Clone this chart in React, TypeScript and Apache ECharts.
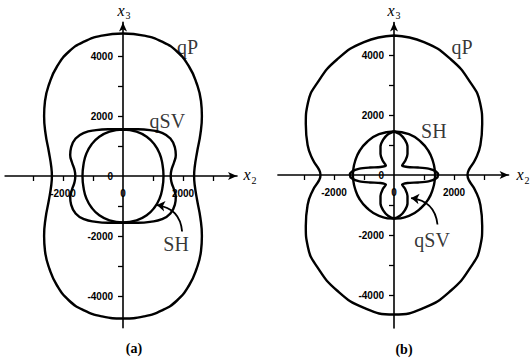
import React, { useEffect, useRef } from "react";
import * as echarts from "echarts";

// Axis ticks and labels
const hTicks = [-3000, -2000, -1000, 1000, 2000, 3000];
const hLabels = [-2000, 0, 2000];
const vTicks = [-4000, -3000, -2000, -1000, 1000, 2000, 3000, 4000];
const vLabels = [-4000, -2000, 0, 2000, 4000];

// Upper-right quadrant of each wave surface [x2, x3], from the x3 axis down to the x2 axis
const qPa = [[0, 4750], [700, 4680], [1300, 4480], [1800, 4150], [2200, 3650], [2450, 3100], [2600, 2500], [2630, 2000], [2580, 1400], [2470, 800], [2390, 300], [2370, 0]];
const qSVa = [[0, 1560], [500, 1560], [900, 1530], [1300, 1440], [1580, 1250], [1730, 950], [1760, 700], [1700, 450], [1620, 220], [1590, 0]];
const SHa = [[0, 1550], [450, 1480], [800, 1300], [1050, 1050], [1220, 750], [1310, 420], [1350, 0]];

const qPb = [[0, 4650], [1000, 4430], [1900, 3850], [2550, 3080], [2870, 2400], [2940, 1700], [2880, 1000], [2700, 500], [2500, 180], [2450, 0]];
const SHb = [[0, 1450], [500, 1360], [900, 1100], [1150, 800], [1300, 450], [1360, 150], [1370, 0]];
const qSVb = [[0, 1450], [200, 1360], [360, 1180], [450, 950], [450, 700], [380, 480], [270, 320], [450, 265], [800, 250], [1150, 215], [1400, 120], [1470, 0]];

// Curve names and arrows (annotations)
const curveLabelsA = [
  { name: "qP", value: [2150, 4300] },
  { name: "qSV", value: [1480, 1850] },
  { name: "SH", value: [1770, -2250] },
];
const curveLabelsB = [
  { name: "qP", value: [2270, 4270] },
  { name: "SH", value: [1330, 1470] },
  { name: "qSV", value: [1270, -2170] },
];
const arrowA = [[1970, -1850], [1130, -970]];
const arrowB = [[1450, -1650], [570, -770]];

// Axis ranges
const xRangeA = [-3930, 3800];
const yRangeA = [-5060, 5120];
const xRangeB = [-3870, 3820];
const yRangeB = [-5100, 5080];

function closeCurve(q: number[][]): number[][] {
  const ur = q;
  const lr = q.slice(0, -1).reverse().map(([x, z]) => [x, -z]);
  const ll = q.slice(1).map(([x, z]) => [-x, -z]);
  const ul = q.slice(0, -1).reverse().map(([x, z]) => [-x, z]);
  return [...ur, ...lr, ...ll, ...ul];
}

const tickFont = { color: "#000", fontSize: 10, fontWeight: "bold" as const, fontFamily: '"Liberation Sans", Arial, sans-serif' };
const SERIF = '"Liberation Serif", "Times New Roman", serif';

function makeX(gridIndex: number, r: number[], offset: number) {
  return {
    gridIndex, type: "value", min: r[0], max: r[1], position: "bottom", offset,
    axisLine: { show: true, onZero: false, symbol: ["none", "arrow"], symbolSize: [6, 9], lineStyle: { color: "#000", width: 1.6 } },
    axisTick: { show: true, customValues: hTicks, length: 5, lineStyle: { color: "#000", width: 1.3 } },
    axisLabel: { show: true, customValues: hLabels, margin: 12, formatter: (v: number) => String(v), ...tickFont },
    splitLine: { show: false },
  };
}
function makeY(gridIndex: number, r: number[], offset: number) {
  return {
    gridIndex, type: "value", min: r[0], max: r[1], position: "left", offset,
    axisLine: { show: true, onZero: false, symbol: ["none", "arrow"], symbolSize: [6, 9], lineStyle: { color: "#000", width: 1.6 } },
    axisTick: { show: true, customValues: vTicks, length: 5, lineStyle: { color: "#000", width: 1.3 } },
    axisLabel: { show: true, customValues: vLabels, margin: 10, formatter: (v: number) => String(v), ...tickFont },
    splitLine: { show: false },
  };
}

function curve(data: number[][], idx: number, smooth: number | boolean = true) {
  return {
    type: "line", xAxisIndex: idx, yAxisIndex: idx, data: closeCurve(data),
    showSymbol: false, symbol: "none", smooth, silent: true,
    lineStyle: { color: "#000", width: 2.4 },
  };
}
function labels(data: any[], idx: number) {
  return {
    type: "scatter", xAxisIndex: idx, yAxisIndex: idx, data, symbolSize: 1,
    itemStyle: { color: "transparent" }, silent: true,
    label: { show: true, position: "inside", formatter: "{b}", color: "#000", fontSize: 20, fontFamily: SERIF },
  };
}
function arrow(coords: number[][], idx: number) {
  return {
    type: "lines", coordinateSystem: "cartesian2d", xAxisIndex: idx, yAxisIndex: idx,
    data: [{ coords }], symbol: ["none", "arrow"], symbolSize: 8, silent: true,
    lineStyle: { color: "#000", width: 1.8, curveness: -0.4, opacity: 1 },
  };
}
function txt(text: string, x: number, y: number, size: number, italic = false, bold = false) {
  return {
    type: "text", x, y,
    style: {
      text, x: 0, y: 0, fill: "#000", fontSize: size, fontFamily: SERIF,
      fontStyle: italic ? "italic" : "normal", fontWeight: bold ? "bold" : "normal",
      textAlign: "center", textVerticalAlign: "middle", align: "center", verticalAlign: "middle",
    },
  };
}

export default function App() {
  const ref = useRef<HTMLDivElement>(null);
  useEffect(() => {
    if (!ref.current) return;
    const chart = echarts.init(ref.current, undefined, { renderer: "svg" });
    const gA = { left: 5.1, top: 22.4, width: 231.9, height: 305.4 };
    const gB = { left: 277.9, top: 22.6, width: 230.7, height: 305.4 };
    const zeroOff = (r: number[], len: number) => -(len * (0 - r[0])) / (r[1] - r[0]);
    chart.setOption({
      animation: false,
      backgroundColor: "#fff",
      grid: [
        { ...gA, containLabel: false, outerBoundsMode: "none" },
        { ...gB, containLabel: false, outerBoundsMode: "none" },
      ],
      xAxis: [makeX(0, xRangeA, zeroOff(yRangeA, gA.height)), makeX(1, xRangeB, zeroOff(yRangeB, gB.height))],
      yAxis: [makeY(0, yRangeA, zeroOff(xRangeA, gA.width)), makeY(1, yRangeB, zeroOff(xRangeB, gB.width))],
      series: [
        curve(qPa, 0), curve(qSVa, 0), curve(SHa, 0),
        curve(qPb, 1), curve(SHb, 1), curve(qSVb, 1, 0.25),
        labels(curveLabelsA, 0), labels(curveLabelsB, 1),
        arrow(arrowA, 0), arrow(arrowB, 1),
      ],
      graphic: [
        txt("x", 121, 10, 16, true), txt("3", 128, 15, 10),
        txt("x", 247, 174, 16, true), txt("2", 254, 180, 10),
        txt("x", 391, 10, 16, true), txt("3", 398, 15, 10),
        txt("x", 520, 174, 16, true), txt("2", 527, 180, 10),
        txt("(a)", 134, 348, 14, false, true),
        txt("(b)", 404, 349, 14, false, true),
      ],
    });
    return () => chart.dispose();
  }, []);
  return <div ref={ref} style={{ position: "fixed", left: 0, top: 0, width: 530, height: 362, background: "#fff" }} />;
}
